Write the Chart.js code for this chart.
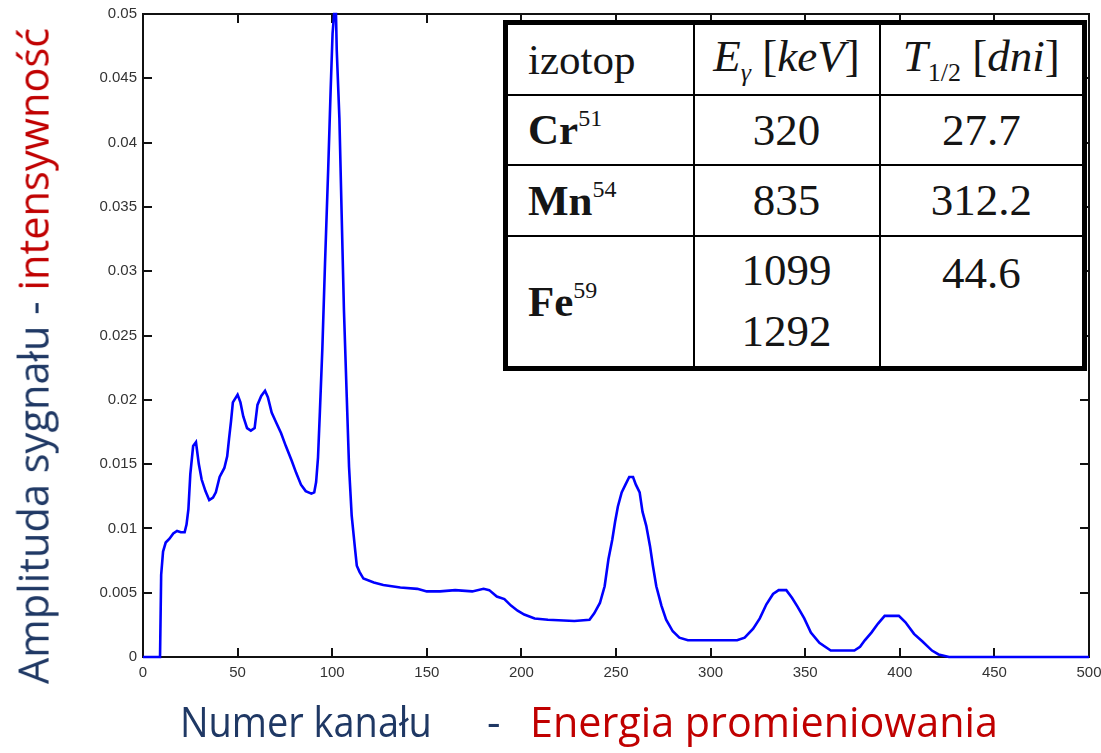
<!DOCTYPE html>
<html>
<head>
<meta charset="utf-8">
<script src="https://cdn.jsdelivr.net/npm/chart.js@4.4.1/dist/chart.umd.min.js"></script>
<style>
    html, body { margin: 0; padding: 0; background: #fff; }
    #wrap { position: relative; width: 1101px; height: 753px; overflow: hidden; }
    #spectrum { position: absolute; left: 0; top: 0; }
    .ttl { position: absolute; white-space: nowrap; font-family: "Open Sans", sans-serif; font-size: 42px; line-height: 1; }
    .blue { color: #1F3864; }
    .red { color: #C00000; }
    table.iso {
        position: absolute; left: 503px; top: 20px; width: 579px; height: 346px;
        table-layout: fixed; border-collapse: collapse; border: 5px solid #000; background: #fff;
        font-family: "Liberation Serif", "Times New Roman", serif; font-size: 45px; color: #151515;
    }
    table.iso td { border: 2px solid #000; text-align: center; padding: 0; }
    table.iso td.el { text-align: left; padding-left: 20px; font-size: 43px; }
    table.iso sup { font-size: 24px; font-weight: normal; vertical-align: 18px; }
    table.iso sub { font-size: 26px; vertical-align: -10px; }
    table.iso td.top { vertical-align: top; padding-top: 10px; }
    table.iso .two { line-height: 61px; }
</style>
</head>
<body>
<div id="wrap">
    <canvas id="spectrum" width="1101" height="753"></canvas>

    <table class="iso">
        <colgroup><col style="width:188px"><col style="width:186px"><col style="width:205px"></colgroup>
        <tr style="height:72px">
            <td class="el">izotop</td>
            <td><i>E</i><sub><i>γ</i></sub> [<i>keV</i>]</td>
            <td><i>T</i><sub>1/2</sub> [<i>dni</i>]</td>
        </tr>
        <tr style="height:70px">
            <td class="el"><b>Cr</b><sup>51</sup></td>
            <td>320</td>
            <td>27.7</td>
        </tr>
        <tr style="height:71px">
            <td class="el"><b>Mn</b><sup>54</sup></td>
            <td>835</td>
            <td>312.2</td>
        </tr>
        <tr style="height:133px">
            <td class="el"><b>Fe</b><sup>59</sup></td>
            <td class="two">1099<br>1292</td>
            <td class="top">44.6</td>
        </tr>
    </table>

    <div id="yTitle" class="ttl"><span class="blue">Amplituda sygnału -</span> <span class="red">intensywność</span></div>
    <div id="xTitleA" class="ttl blue">Numer kanału</div>
    <div id="xTitleB" class="ttl blue">-</div>
    <div id="xTitleC" class="ttl red">Energia promieniowania</div>
</div>

<script>
// widmo: numer kanału -> amplituda (odczyt z wykresu)
const channels = [
    0, 9, 9.6, 10.6, 12, 14, 16, 18, 20, 22, 23, 24, 25, 26.5, 28, 29.5, 31, 33, 35, 37,
    38.5, 40.5, 43, 44.5, 45.5, 46.5, 47.5, 50, 51.5, 53, 55, 57, 59, 60.5, 62.5, 64.5, 66, 68, 70.5, 73,
    75.5, 78.5, 81, 83.5, 86, 89, 90.5, 91.5, 92.5, 93.5, 94.8, 96.2, 97.9, 99.2, 100.2, 101, 102, 102.4, 103.8, 105,
    106.2, 107.7, 108.9, 110.3, 112, 113, 114.5, 116.5, 122, 127, 136, 145, 150, 157, 165, 174, 180, 183, 187, 191,
    194.5, 198, 201.5, 207, 214, 228, 236, 238.5, 241.5, 244, 246, 248, 249.5, 251, 253, 255, 257, 259, 260.5, 262.5,
    264, 266, 268, 269.5, 271.3, 274, 276.5, 280, 283.5, 288, 314, 318, 322.5, 326, 329.5, 333, 336, 340, 343, 346,
    349.5, 353, 357.5, 363.5, 376, 379, 381.5, 385, 388.5, 392, 399.5, 403, 407.5, 412, 417, 420.5, 426, 500
];
const amplitude = [
    0, 0, 0.0064, 0.0082, 0.0089, 0.0092, 0.0096, 0.0098, 0.0097, 0.0097, 0.0103, 0.0115, 0.0142, 0.0164, 0.0167, 0.0150, 0.0138, 0.0129, 0.0122, 0.0124,
    0.0128, 0.0140, 0.0147, 0.0156, 0.0170, 0.0183, 0.0198, 0.0204, 0.0198, 0.0187, 0.0178, 0.0176, 0.0178, 0.0196, 0.0203, 0.0207, 0.0202, 0.0190, 0.0182, 0.0174,
    0.0164, 0.0153, 0.0143, 0.0134, 0.0129, 0.0127, 0.0128, 0.0136, 0.0155, 0.0191, 0.0240, 0.0306, 0.0380, 0.0442, 0.0485, 0.0500, 0.0500, 0.0472, 0.0419, 0.0344,
    0.0270, 0.0202, 0.0148, 0.0110, 0.0085, 0.0071, 0.0066, 0.0061, 0.0058, 0.0056, 0.0054, 0.0053, 0.0051, 0.0051, 0.0052, 0.0051, 0.0053, 0.0052, 0.0047, 0.0045,
    0.0040, 0.0036, 0.0033, 0.0030, 0.0029, 0.0028, 0.0029, 0.0034, 0.0042, 0.0055, 0.0076, 0.0091, 0.0105, 0.0117, 0.0128, 0.0134, 0.0140, 0.0140, 0.0134, 0.0128,
    0.0113, 0.0102, 0.0086, 0.0071, 0.0055, 0.0040, 0.0029, 0.0020, 0.0015, 0.0013, 0.0013, 0.0015, 0.0022, 0.0030, 0.0041, 0.0049, 0.0052, 0.0052, 0.0046, 0.0039,
    0.0030, 0.0019, 0.0011, 0.0005, 0.0005, 0.0008, 0.0013, 0.0019, 0.0026, 0.0032, 0.0032, 0.0027, 0.0018, 0.0012, 0.0005, 0.0002, 0, 0
];
const xTickValues = [0, 50, 100, 150, 200, 250, 300, 350, 400, 450, 500];
const yTickValues = [0, 0.005, 0.01, 0.015, 0.02, 0.025, 0.03, 0.035, 0.04, 0.045, 0.05];
const yTickLabels = ['0', '0.005', '0.01', '0.015', '0.02', '0.025', '0.03', '0.035', '0.04', '0.045', '0.05'];

(function () {
    'use strict';

    // ramka w stylu MATLAB: cztery boki i znaczniki do wewnątrz
    const matlabFrame = {
        id: 'matlabFrame',
        beforeDatasetsDraw(chart) {
            const ctx = chart.ctx;
            const a = chart.chartArea;
            const x = chart.scales.x;
            const y = chart.scales.y;
            const len = 9;
            ctx.save();
            ctx.strokeStyle = '#111';
            ctx.lineWidth = 2;
            ctx.strokeRect(a.left, a.top, a.right - a.left, a.bottom - a.top);
            ctx.beginPath();
            x.ticks.forEach(function (t) {
                const px = Math.round(x.getPixelForValue(t.value));
                ctx.moveTo(px, a.bottom); ctx.lineTo(px, a.bottom - len);
                ctx.moveTo(px, a.top); ctx.lineTo(px, a.top + len);
            });
            y.ticks.forEach(function (t) {
                const py = Math.round(y.getPixelForValue(t.value));
                ctx.moveTo(a.left, py); ctx.lineTo(a.left + len, py);
                ctx.moveTo(a.right, py); ctx.lineTo(a.right - len, py);
            });
            ctx.stroke();
            ctx.restore();
        }
    };

    const tickFont = { family: '"Liberation Sans", Arial, sans-serif', size: 15 };

    new Chart(document.getElementById('spectrum'), {
        type: 'line',
        data: {
            datasets: [{
                data: channels.map(function (c, i) { return { x: c, y: amplitude[i] }; }),
                borderColor: '#0000FF',
                borderWidth: 2.6,
                pointRadius: 0,
                tension: 0,
                fill: false,
                clip: 4,
            }],
        },
        options: {
            responsive: false,
            animation: false,
            devicePixelRatio: 1,
            layout: { padding: { left: 0, top: 14, right: 12, bottom: 0 } },
            plugins: { legend: { display: false }, tooltip: { enabled: false } },
            scales: {
                x: {
                    type: 'linear', min: 0, max: 500,
                    afterBuildTicks: function (axis) { axis.ticks = xTickValues.map(function (v) { return { value: v }; }); },
                    afterFit: function (s) { s.height = 96; s.paddingLeft = 0; s.paddingRight = 0; },
                    grid: { display: false, drawTicks: false },
                    border: { display: false },
                    ticks: { color: '#333', font: tickFont, padding: 7, maxRotation: 0, autoSkip: false },
                },
                y: {
                    type: 'linear', min: 0, max: 0.05,
                    afterBuildTicks: function (axis) { axis.ticks = yTickValues.map(function (v) { return { value: v }; }); },
                    afterFit: function (s) { s.width = 143; s.paddingTop = 0; s.paddingBottom = 0; },
                    grid: { display: false, drawTicks: false },
                    border: { display: false },
                    ticks: {
                        color: '#333', font: tickFont, padding: 6, autoSkip: false,
                        callback: function (v, i) { return yTickLabels[i]; },
                    },
                },
            },
        },
        plugins: [matlabFrame],
    });

    // dopasowanie szerokości tytułów osi
    function fit(el, width) {
        return width / el.offsetWidth;
    }

    const yT = document.getElementById('yTitle');
    const ky = fit(yT, 656);
    const w = yT.offsetWidth, h = yT.offsetHeight;
    yT.style.left = (32 - w / 2) + 'px';
    yT.style.top = (356 - h / 2) + 'px';
    yT.style.transform = 'rotate(-90deg) scaleX(' + ky + ')';

    [['xTitleA', 180, 252], ['xTitleB', 487, 13], ['xTitleC', 530, 468]].forEach(function (d) {
        const el = document.getElementById(d[0]);
        el.style.left = d[1] + 'px';
        el.style.top = '700px';
        el.style.transformOrigin = 'left top';
        if (d[0] !== 'xTitleB') {
            el.style.transform = 'scaleX(' + fit(el, d[2]) + ')';
        }
    });
})();
</script>
</body>
</html>
